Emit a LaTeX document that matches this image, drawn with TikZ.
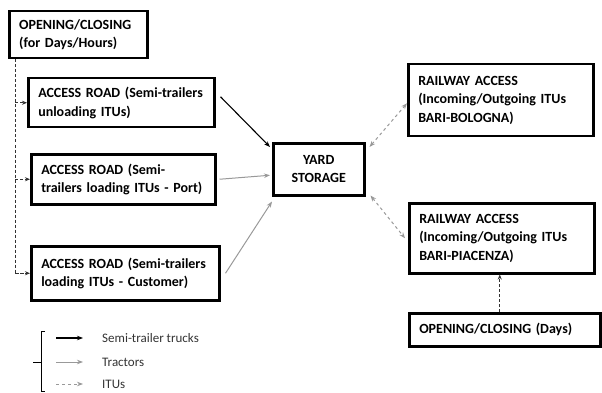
\documentclass[tikz,border=0pt]{standalone}
\usepackage{fontspec}
\setmainfont{Carlito}
\usetikzlibrary{arrows.meta,calc}
\begin{document}
\begin{tikzpicture}[x=1pt,y=-1pt]

    \tikzset{
      box/.style={
        draw,
        line width=2.5pt,
        anchor=north west,
        inner xsep=10pt,
        inner ysep=2pt,
        align=left,
        font=\fontsize{14}{18.5}\selectfont\bfseries,
      },
      truck/.style={-{Stealth[length=6pt,width=4.5pt]},line width=1.1pt,color=black},
      tractor/.style={-{Stealth[length=6pt,width=4.5pt]},line width=1pt,color=black!40},
      itu/.style={{Stealth[length=6pt,width=4.5pt]}-{Stealth[length=6pt,width=4.5pt]},line width=1pt,dashed,color=black!40},
      ctrl/.style={line width=0.9pt,densely dashed,color=black!80},
      legendtext/.style={anchor=west,inner sep=0pt,color=black!80,font=\fontsize{13}{15}\selectfont},
    }
    \useasboundingbox (0,0) rectangle (602,393);

    \node[box,minimum width=138pt,minimum height=47pt,text width=118pt] (openroad) at (8,10) {OPENING/CLOSING\\(for Days/Hours)};
    \node[box,minimum width=186pt,minimum height=49pt,text width=166pt] (accunload) at (27,77) {ACCESS ROAD (Semi-trailers\\unloading ITUs)};
    \node[box,minimum width=184pt,minimum height=50pt,text width=164pt] (accport) at (30,153) {ACCESS ROAD (Semi-\\trailers loading ITUs - Port)};
    \node[box,minimum width=188pt,minimum height=54pt,text width=168pt] (acccust) at (30,245) {ACCESS ROAD (Semi-trailers\\loading ITUs - Customer)};
    \node[box,minimum width=91pt,minimum height=52pt,text width=71pt,align=center] (yard) at (272,142) {YARD\\STORAGE};
    \node[box,minimum width=185pt,minimum height=72pt,text width=165pt] (railbo) at (407,63) {RAILWAY ACCESS\\(Incoming/Outgoing ITUs\\BARI-BOLOGNA)};
    \node[box,minimum width=185pt,minimum height=70pt,text width=165pt] (railpc) at (408,202) {RAILWAY ACCESS\\(Incoming/Outgoing ITUs\\BARI-PIACENZA)};
    \node[box,minimum width=191pt,minimum height=33pt,text width=171pt] (openrail) at (408,312) {OPENING/CLOSING (Days)};

    % opening/closing of the roads
    \coordinate (trunk) at (15,0);
    \draw[ctrl] (openroad.south -| trunk) |- (acccust.west);
    \draw[ctrl,-{Stealth[length=5pt,width=4pt]}] (trunk |- accunload.west) -- (accunload.west);
    \draw[ctrl,-{Stealth[length=5pt,width=4pt]}] (trunk |- accport.west) -- (accport.west);
    \draw[ctrl,-{Stealth[length=5pt,width=4pt]}] (trunk |- acccust.west) -- (acccust.west);

    \draw[truck] ($(accunload.east)+(5,-6)$) -- ($(yard.north west)+(-2,5)$);
    \draw[tractor] ($(accport.east)+(3,0)$) -- ($(yard.west)+(-2,6)$);
    \draw[tractor] ($(acccust.east)+(5,0)$) -- ($(yard.south west)+(0,5)$);
    \draw[itu] ($(yard.north east)+(4,5)$) -- ($(railbo.west)+(0,3)$);
    \draw[itu] ($(yard.south east)+(5,-1)$) -- ($(railpc.west)+(-3,0)$);

    % opening/closing of the railway
    \coordinate (railtap) at ($(openrail.north)+(-5,0)$);
    \draw[ctrl,-{Stealth[length=5pt,width=4pt]}] (railtap) -- (railtap |- railpc.south);

    % legend
    \node[legendtext] (lgtruck) at (102,338) {Semi-trailer trucks};
    \node[legendtext] (lgtractor) at (102,362) {Tractors};
    \node[legendtext] (lgitu) at (102,384) {ITUs};
    \draw[truck] ($(lgtruck.west)+(-46,0)$) -- ($(lgtruck.west)+(-19,0)$);
    \draw[tractor] ($(lgtractor.west)+(-46,0)$) -- ($(lgtractor.west)+(-19,0)$);
    \draw[itu,-{Stealth[length=6pt,width=4.5pt]}] ($(lgitu.west)+(-46,0)$) -- ($(lgitu.west)+(-19,0)$);
    \draw[line width=0.9pt] (45,331) -- (41,331) -- (41,391) -- (45,391);
    \draw[line width=0.9pt] (41,362) -- (33,362);

\end{tikzpicture}
\end{document}
